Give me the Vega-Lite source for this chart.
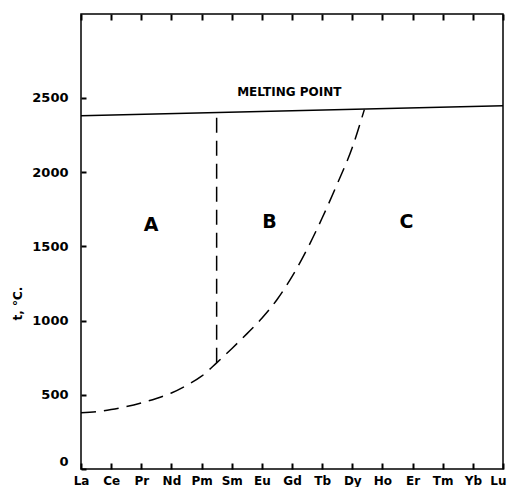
{
  "$schema": "https://vega.github.io/schema/vega-lite/v6.json",
  "autosize": "none",
  "width": 422,
  "height": 455,
  "padding": {"left": 81, "top": 14, "right": 5, "bottom": 18},
  "background": "white",
  "config": {
    "view": {"stroke": "black", "strokeWidth": 1.5},
    "font": "DejaVu Sans",
    "axis": {
      "domain": false, "ticks": true, "tickColor": "black", "tickWidth": 2, "tickOpacity": 1, "zindex": 1,
      "labelColor": "black", "labelFontWeight": "bold", "titleColor": "black", "grid": false
    }
  },
  "datasets": {
    "melt": [{"z": 57, "t": 2378}, {"z": 71, "t": 2446}],
    "curve": [
      {"z": 57, "t": 378}, {"z": 57.5, "t": 385}, {"z": 58, "t": 400}, {"z": 58.5, "t": 420},
      {"z": 59, "t": 445}, {"z": 59.5, "t": 475}, {"z": 60, "t": 512}, {"z": 60.5, "t": 563},
      {"z": 61, "t": 625}, {"z": 61.5, "t": 715}, {"z": 62, "t": 810}, {"z": 62.5, "t": 910},
      {"z": 63, "t": 1015}, {"z": 63.5, "t": 1140}, {"z": 64, "t": 1295}, {"z": 64.5, "t": 1480},
      {"z": 65, "t": 1690}, {"z": 65.5, "t": 1920}, {"z": 66, "t": 2165}, {"z": 66.4, "t": 2420}
    ],
    "vert": [{"z": 61.5, "t": 715}, {"z": 61.5, "t": 2400}],
    "phases": [
      {"z": 59.33, "t": 1643, "label": "A"},
      {"z": 63.25, "t": 1663, "label": "B"},
      {"z": 67.8, "t": 1663, "label": "C"}
    ],
    "note": [{"z": 63.91, "t": 2539, "label": "MELTING POINT"}]
  },
  "resolve": {"axis": {"x": "independent"}},
  "layer": [
    {
      "data": {"name": "melt"},
      "mark": {"type": "line", "color": "black", "strokeWidth": 1.5},
      "encoding": {
        "x": {
          "field": "z", "type": "quantitative",
          "scale": {"domain": [57, 71], "nice": false, "zero": false},
          "axis": {
            "orient": "bottom", "title": null, "offset": -6,
            "values": [57, 58, 59, 60, 61, 62, 63, 64, 65, 66, 67, 68, 69, 70, 71],
            "labelExpr": "['La','Ce','Pr','Nd','Pm','Sm','Eu','Gd','Tb','Dy','Ho','Er','Tm','Yb','Lu'][datum.value - 57]",
            "labelAlign": {"expr": "datum.value == 71 ? 'right' : 'center'"},
            "labelOffset": {"expr": "datum.value == 71 ? 3 : 0"},
            "tickSize": 6, "labelPadding": 6, "labelFontSize": 12, "labelFlush": false
          }
        },
        "y": {
          "field": "t", "type": "quantitative",
          "scale": {"domain": [0, 3064], "nice": false},
          "axis": {
            "offset": -5,
            "title": "t, °C.", "titleFontSize": 12, "titleFontWeight": "bold",
            "titleX": -69, "titleY": 289, "titleAngle": -90, "titleAlign": "center", "titleBaseline": "middle",
            "values": [0, 500, 1000, 1500, 2000, 2500], "format": "d",
            "labelOffset": {"expr": "datum.value == 0 ? -8 : 0"},
            "tickSize": 5, "labelPadding": 13, "labelFontSize": 13, "labelFlush": false
          }
        }
      }
    },
    {
      "data": {"name": "melt"},
      "mark": {"type": "line", "opacity": 0},
      "encoding": {
        "x": {"field": "z", "type": "quantitative",
          "axis": {"orient": "top", "title": null, "labels": false, "offset": -6, "tickSize": 6,
            "values": [57, 58, 59, 60, 61, 62, 63, 64, 65, 66, 67, 68, 69, 70, 71]}},
        "y": {"field": "t", "type": "quantitative"}
      }
    },
    {"data": {"name": "curve"}, "mark": {"type": "line", "color": "black", "strokeWidth": 1.5, "strokeDash": [15, 8], "interpolate": "monotone"},
     "encoding": {"x": {"field": "z", "type": "quantitative", "axis": null}, "y": {"field": "t", "type": "quantitative"}}},
    {"data": {"name": "vert"}, "mark": {"type": "line", "color": "black", "strokeWidth": 1.5, "strokeDash": [15, 8]},
     "encoding": {"x": {"field": "z", "type": "quantitative", "axis": null}, "y": {"field": "t", "type": "quantitative"}}},
    {"data": {"name": "phases"}, "mark": {"type": "text", "fontSize": 19, "fontWeight": "bold", "color": "black"},
     "encoding": {"x": {"field": "z", "type": "quantitative", "axis": null}, "y": {"field": "t", "type": "quantitative"}, "text": {"field": "label"}}},
    {"data": {"name": "note"}, "mark": {"type": "text", "fontSize": 12, "fontWeight": "bold", "color": "black"},
     "encoding": {"x": {"field": "z", "type": "quantitative", "axis": null}, "y": {"field": "t", "type": "quantitative"}, "text": {"field": "label"}}}
  ]
}
